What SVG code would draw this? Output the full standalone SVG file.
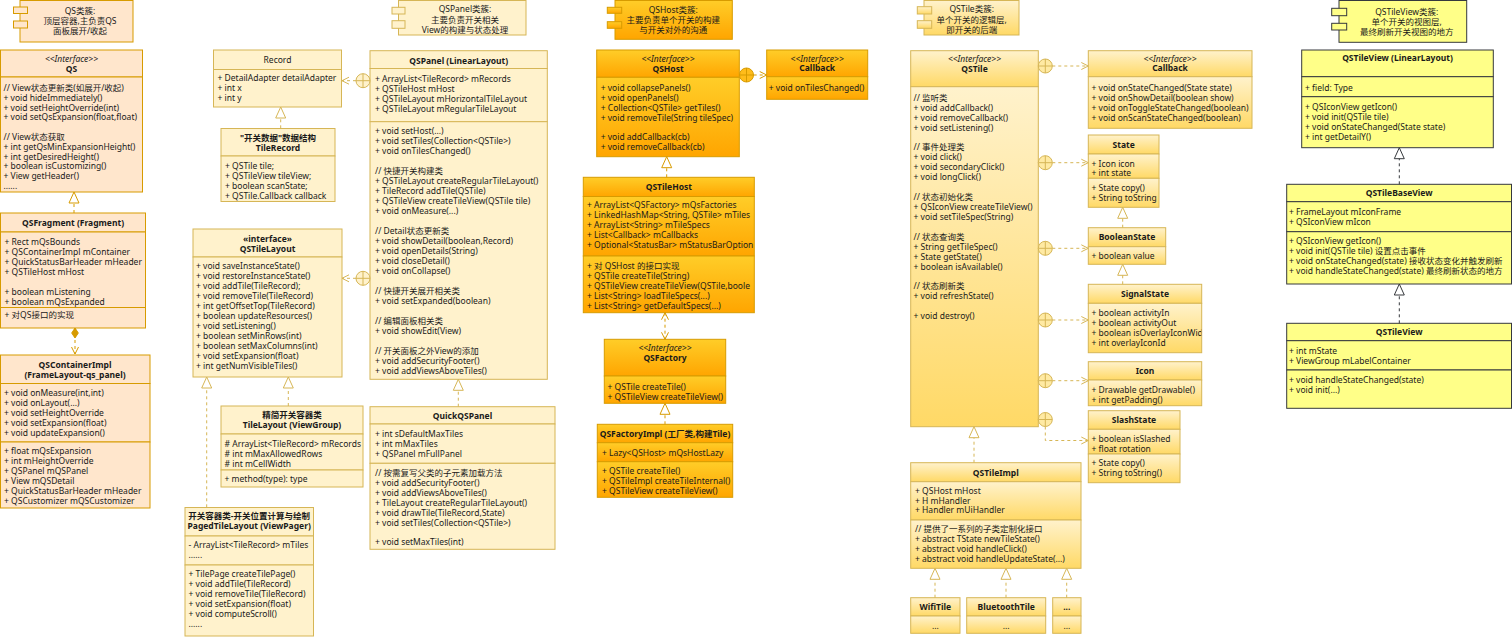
<svg xmlns="http://www.w3.org/2000/svg" width="1512" height="639" viewBox="0 0 1512 639">
<defs>
<style>
text{font-family:"Noto Sans","Noto Sans CJK SC",sans-serif;font-size:8.5px;fill:#1a1a1a}
.b{font-weight:bold}
.i{font-style:italic}
.c{text-anchor:middle}
.qs{fill:#ffe6cc;stroke:#d79b00}
.pn{fill:#fff2cc;stroke:#d6b656}
.hs{fill:url(#gHost);stroke:#d79b00}
.tl{fill:url(#gTile);stroke:#d6b656}
.tv{fill:#ffff88;stroke:#36393d}
.e{fill:none;stroke-dasharray:3 3}
.eo{stroke:#d79b00}
.et{stroke:#d6b656}
.ek{stroke:#36393d}
</style>
<linearGradient id="gHost" x1="0" y1="0" x2="0" y2="1"><stop offset="0" stop-color="#ffcd28"/><stop offset="1" stop-color="#ffa500"/></linearGradient>
<linearGradient id="gTile" x1="0" y1="0" x2="0" y2="1"><stop offset="0" stop-color="#fff2cc"/><stop offset="1" stop-color="#ffd966"/></linearGradient>
<marker id="triO" viewBox="-1 -6 13 12" refX="0" refY="0" markerWidth="13" markerHeight="12" markerUnits="userSpaceOnUse" orient="auto"><path d="M0,-5L11,0L0,5Z" fill="none" stroke="#d79b00"/></marker>
<marker id="triT" viewBox="-1 -6 13 12" refX="0" refY="0" markerWidth="13" markerHeight="12" markerUnits="userSpaceOnUse" orient="auto"><path d="M0,-5L11,0L0,5Z" fill="none" stroke="#d6b656"/></marker>
<marker id="triK" viewBox="-1 -6 13 12" refX="0" refY="0" markerWidth="13" markerHeight="12" markerUnits="userSpaceOnUse" orient="auto"><path d="M0,-5L11,0L0,5Z" fill="none" stroke="#36393d"/></marker>
<marker id="arrO" viewBox="-9 -5 10 10" refX="0" refY="0" markerWidth="10" markerHeight="10" markerUnits="userSpaceOnUse" orient="auto-start-reverse"><path d="M-7,-3.5L0,0L-7,3.5" fill="none" stroke="#d79b00"/></marker>
<marker id="arrT" viewBox="-9 -5 10 10" refX="0" refY="0" markerWidth="10" markerHeight="10" markerUnits="userSpaceOnUse" orient="auto-start-reverse"><path d="M-7,-3.5L0,0L-7,3.5" fill="none" stroke="#d6b656"/></marker>
<marker id="diaO" viewBox="-1 -5 12 10" refX="0" refY="0" markerWidth="12" markerHeight="10" markerUnits="userSpaceOnUse" orient="auto"><path d="M0,0L5,-3.3L10,0L5,3.3Z" fill="#d79b00" stroke="#d79b00"/></marker>
<g id="cp"><circle r="7"/><path d="M-7,0H7M0,-7V7" fill="none"/></g>
<clipPath id="clipHost"><rect x="583.3" y="177.3" width="170.5" height="135.4"/></clipPath>
<clipPath id="clipSig"><rect x="1088.3" y="284.3" width="113" height="68.4"/></clipPath>
</defs>
<rect x="0" y="0" width="1512" height="639" fill="#ffffff"/>

<g id="qs-note">
<rect class="qs" x="20" y="0.5" width="113" height="41.5"/>
<rect class="qs" x="13.5" y="7" width="14" height="6.5"/>
<rect class="qs" x="13.5" y="21" width="14" height="7"/>
<text class="c" x="80" y="13.5">QS类簇:</text>
<text class="c" x="80" y="23.5">顶层容器,主负责QS</text>
<text class="c" x="80" y="33.5">面板展开/收起</text>
</g>

<g id="qs">
<rect class="qs" x="0.5" y="50" width="142" height="27"/>
<rect class="qs" x="0.5" y="77" width="142" height="115"/>
<text class="c i" x="71.5" y="61.5">&lt;&lt;Interface&gt;&gt;</text>
<text class="c b" x="71.5" y="71.5">QS</text>
<text x="3.5" y="91">// View状态更新类(如展开/收起)</text>
<text x="3.5" y="100.8">+ void hideImmediately()</text>
<text x="3.5" y="110.6">+ void setHeightOverride(int)</text>
<text x="3.5" y="120.4">+ void setQsExpansion(float,float)</text>
<text x="3.5" y="140">// View状态获取</text>
<text x="3.5" y="149.8">+ int getQsMinExpansionHeight()</text>
<text x="3.5" y="159.6">+ int getDesiredHeight()</text>
<text x="3.5" y="169.4">+ boolean isCustomizing()</text>
<text x="3.5" y="179.2">+ View getHeader()</text>
<text x="3.5" y="189">......</text>
</g>

<g id="qsfragment">
<rect class="qs" x="0.5" y="213" width="145" height="19"/>
<rect class="qs" x="0.5" y="232" width="145" height="75.5"/>
<rect class="qs" x="0.5" y="307.5" width="145" height="20.5"/>
<text class="c b" x="73" y="226">QSFragment (Fragment)</text>
<text x="4.5" y="244.5">+ Rect mQsBounds</text>
<text x="4.5" y="254.5">+ QSContainerImpl mContainer</text>
<text x="4.5" y="264.5">+ QuickStatusBarHeader mHeader</text>
<text x="4.5" y="274.5">+ QSTileHost mHost</text>
<text x="4.5" y="294.5">+ boolean mListening</text>
<text x="4.5" y="304.5">+ boolean mQsExpanded</text>
<text x="4.5" y="317.5">+ 对QS接口的实现</text>
</g>

<g id="qscontainerimpl">
<rect class="qs" x="0.5" y="355" width="149.5" height="28.5"/>
<rect class="qs" x="0.5" y="383.5" width="149.5" height="58.5"/>
<rect class="qs" x="0.5" y="442" width="149.5" height="66"/>
<text class="c b" x="75" y="367.5">QSContainerImpl</text>
<text class="c b" x="75" y="377.5">(FrameLayout-qs_panel)</text>
<text x="4" y="395.5">+ void onMeasure(int,int)</text>
<text x="4" y="405.5">+ void onLayout(...)</text>
<text x="4" y="415.5">+ void setHeightOverride</text>
<text x="4" y="425.5">+ void setExpansion(float)</text>
<text x="4" y="435.5">+ void updateExpansion()</text>
<text x="4" y="454">+ float mQsExpansion</text>
<text x="4" y="464">+ int mHeightOverride</text>
<text x="4" y="474">+ QSPanel mQSPanel</text>
<text x="4" y="484">+ View mQSDetail</text>
<text x="4" y="494">+ QuickStatusBarHeader mHeader</text>
<text x="4" y="504">+ QSCustomizer mQSCustomizer</text>
</g>

<g id="record">
<rect class="pn" x="213.5" y="50" width="128" height="19.5"/>
<rect class="pn" x="213.5" y="69.5" width="128" height="37.5"/>
<text class="c" x="277.5" y="62.5">Record</text>
<text x="217.5" y="81">+ DetailAdapter detailAdapter</text>
<text x="217.5" y="91">+ int x</text>
<text x="217.5" y="101">+ int y</text>
</g>

<g id="tilerecord">
<rect class="pn" x="221" y="128.5" width="114" height="27.5"/>
<rect class="pn" x="221" y="156" width="114" height="45.5"/>
<text class="c b" x="278" y="140.5">"开关数据"数据结构</text>
<text class="c b" x="278" y="150.5">TileRecord</text>
<text x="225" y="169">+ QSTile tile;</text>
<text x="225" y="179">+ QSTileView tileView;</text>
<text x="225" y="189">+ boolean scanState;</text>
<text x="225" y="199">+ QSTile.Callback callback</text>
</g>

<g id="qstilelayout">
<rect class="pn" x="193" y="229" width="149" height="28"/>
<rect class="pn" x="193" y="257" width="149" height="120"/>
<text class="c b" x="267.5" y="241.5">«interface»</text>
<text class="c b" x="267.5" y="251.5">QSTileLayout</text>
<text x="196" y="269.3">+ void saveInstanceState()</text>
<text x="196" y="279.3">+ void restoreInstanceState()</text>
<text x="196" y="289.3">+ void addTile(TileRecord);</text>
<text x="196" y="299.3">+ void removeTile(TileRecord)</text>
<text x="196" y="309.3">+ int getOffsetTop(TileRecord)</text>
<text x="196" y="319.3">+ boolean updateResources()</text>
<text x="196" y="329.3">+ void setListening()</text>
<text x="196" y="339.3">+ boolean setMinRows(int)</text>
<text x="196" y="349.3">+ boolean setMaxColumns(int)</text>
<text x="196" y="359.3">+ void setExpansion(float)</text>
<text x="196" y="369.3">+ int getNumVisibleTiles()</text>
</g>

<g id="tilelayout">
<rect class="pn" x="221" y="406" width="142" height="28"/>
<rect class="pn" x="221" y="434" width="142" height="36"/>
<rect class="pn" x="221" y="470" width="142" height="17"/>
<text class="c b" x="292" y="417.5">精简开关容器类</text>
<text class="c b" x="292" y="428">TileLayout (ViewGroup)</text>
<text x="224.5" y="446.5"># ArrayList&lt;TileRecord&gt; mRecords</text>
<text x="224.5" y="456.5"># int mMaxAllowedRows</text>
<text x="224.5" y="466.5"># int mCellWidth</text>
<text x="224.5" y="482">+ method(type): type</text>
</g>

<g id="pagedtilelayout">
<rect class="pn" x="185" y="507.5" width="128.5" height="28.5"/>
<rect class="pn" x="185" y="536" width="128.5" height="29"/>
<rect class="pn" x="185" y="565" width="128.5" height="71"/>
<text class="c b" x="249.2" y="519.3">开关容器类-开关位置计算与绘制</text>
<text class="c b" x="249.2" y="529.3">PagedTileLayout (ViewPager)</text>
<text x="188.5" y="548.3">- ArrayList&lt;TileRecord&gt; mTiles</text>
<text x="188.5" y="557.5">......</text>
<text x="188.5" y="576.6">+ TilePage createTilePage()</text>
<text x="188.5" y="586.6">+ void addTile(TileRecord)</text>
<text x="188.5" y="596.6">+ void removeTile(TileRecord)</text>
<text x="188.5" y="606.6">+ void setExpansion(float)</text>
<text x="188.5" y="616.6">+ void computeScroll()</text>
<text x="188.5" y="626.5">......</text>
</g>

<g id="qspanel-note">
<rect class="pn" x="398.5" y="0.5" width="127.5" height="34.5"/>
<rect class="pn" x="392" y="7.3" width="13" height="6.7"/>
<rect class="pn" x="392" y="20.7" width="13" height="7.6"/>
<text class="c" x="465" y="12.3">QSPanel类簇:</text>
<text class="c" x="465" y="22.6">主要负责开关相关</text>
<text class="c" x="465" y="32.6">View的构建与状态处理</text>
</g>

<g id="qspanel">
<rect class="pn" x="370" y="50.7" width="177.3" height="17.8"/>
<rect class="pn" x="370" y="68.5" width="177.3" height="53.2"/>
<rect class="pn" x="370" y="121.7" width="177.3" height="257.6"/>
<text class="c b" x="458.7" y="64">QSPanel (LinearLayout)</text>
<text x="375" y="82.3">+ ArrayList&lt;TileRecord&gt; mRecords</text>
<text x="375" y="92.3">+ QSTileHost mHost</text>
<text x="375" y="102.3">+ QSTileLayout mHorizontalTileLayout</text>
<text x="375" y="112.3">+ QSTileLayout mRegularTileLayout</text>
<text x="375" y="134">+ void setHost(...)</text>
<text x="375" y="144">+ void setTiles(Collection&lt;QSTile&gt;)</text>
<text x="375" y="154">+ void onTilesChanged()</text>
<text x="375" y="174">// 快捷开关构建类</text>
<text x="375" y="184">+ QSTileLayout createRegularTileLayout()</text>
<text x="375" y="194">+ TileRecord addTile(QSTile)</text>
<text x="375" y="204">+ QSTileView createTileView(QSTile tile)</text>
<text x="375" y="214">+ void onMeasure(...)</text>
<text x="375" y="234">// Detail状态更新类</text>
<text x="375" y="244">+ void showDetail(boolean,Record)</text>
<text x="375" y="254">+ void openDetails(String)</text>
<text x="375" y="264">+ void closeDetail()</text>
<text x="375" y="274">+ void onCollapse()</text>
<text x="375" y="294">// 快捷开关展开相关类</text>
<text x="375" y="304">+ void setExpanded(boolean)</text>
<text x="375" y="324">// 编辑面板相关类</text>
<text x="375" y="334">+ void showEdit(View)</text>
<text x="375" y="354">// 开关面板之外View的添加</text>
<text x="375" y="364">+ void addSecurityFooter()</text>
<text x="375" y="374">+ void addViewsAboveTiles()</text>
</g>

<g id="quickqspanel">
<rect class="pn" x="370" y="406.7" width="185" height="17.3"/>
<rect class="pn" x="370" y="424" width="185" height="39.3"/>
<rect class="pn" x="370" y="463.3" width="185" height="86"/>
<text class="c b" x="462.5" y="419">QuickQSPanel</text>
<text x="375" y="437">+ int sDefaultMaxTiles</text>
<text x="375" y="447">+ int mMaxTiles</text>
<text x="375" y="457">+ QSPanel mFullPanel</text>
<text x="375" y="475.6">// 按需复写父类的子元素加载方法</text>
<text x="375" y="485.6">+ void addSecurityFooter()</text>
<text x="375" y="495.6">+ void addViewsAboveTiles()</text>
<text x="375" y="505.6">+ TileLayout createRegularTileLayout()</text>
<text x="375" y="515.6">+ void drawTile(TileRecord,State)</text>
<text x="375" y="525.6">+ void setTiles(Collection&lt;QSTile&gt;)</text>
<text x="375" y="545">+ void setMaxTiles(int)</text>
</g>

<g id="qshost-note">
<rect class="hs" x="615" y="0.5" width="117.3" height="38.8"/>
<rect class="hs" x="607.3" y="7.3" width="14.4" height="6"/>
<rect class="hs" x="607.3" y="21.7" width="14.4" height="6.6"/>
<text class="c" x="673.3" y="12.6">QSHost类簇:</text>
<text class="c" x="673.3" y="23.3">主要负责单个开关的构建</text>
<text class="c" x="673.3" y="32.6">与开关对外的沟通</text>
</g>

<g id="qshost">
<rect class="hs" x="596.7" y="50" width="142.6" height="27.3"/>
<rect class="hs" x="596.7" y="77.3" width="142.6" height="79.4"/>
<text class="c i" x="668" y="61.6">&lt;&lt;Interface&gt;&gt;</text>
<text class="c b" x="668" y="71.6">QSHost</text>
<text x="600.7" y="91">+ void collapsePanels()</text>
<text x="600.7" y="101">+ void openPanels()</text>
<text x="600.7" y="111">+ Collection&lt;QSTile&gt; getTiles()</text>
<text x="600.7" y="121">+ void removeTile(String tileSpec)</text>
<text x="600.7" y="140">+ void addCallback(cb)</text>
<text x="600.7" y="150">+ void removeCallback(cb)</text>
</g>

<g id="qshost-callback">
<rect class="hs" x="766.7" y="50" width="101" height="26.7"/>
<rect class="hs" x="766.7" y="76.7" width="101" height="22.6"/>
<text class="c i" x="817.2" y="61.6">&lt;&lt;Interface&gt;&gt;</text>
<text class="c b" x="817.2" y="71.3">Callback</text>
<text x="768.8" y="91">+ void onTilesChanged()</text>
</g>

<g id="qstilehost">
<rect class="hs" x="583.3" y="177.3" width="171" height="19.2"/>
<rect class="hs" x="583.3" y="196.5" width="171" height="59.5"/>
<rect class="hs" x="583.3" y="256" width="171" height="56.7"/>
<text class="c b" x="668.8" y="190">QSTileHost</text>
<g clip-path="url(#clipHost)">
<text x="587" y="208.3">+ ArrayList&lt;QSFactory&gt; mQsFactories</text>
<text x="587" y="218.3">+ LinkedHashMap&lt;String, QSTile&gt; mTiles</text>
<text x="587" y="228.3">+ ArrayList&lt;String&gt; mTileSpecs</text>
<text x="587" y="238.3">+ List&lt;Callback&gt; mCallbacks</text>
<text x="587" y="248.3">+ Optional&lt;StatusBar&gt; mStatusBarOption</text>
<text x="587" y="269">+ 对 QSHost 的接口实现</text>
<text x="587" y="279">+ QSTile createTile(String)</text>
<text x="587" y="289">+ QSTileView createTileView(QSTile,boole</text>
<text x="587" y="299">+ List&lt;String&gt; loadTileSpecs(...)</text>
<text x="587" y="309">+ List&lt;String&gt; getDefaultSpecs(...)</text>
</g>
</g>

<g id="qsfactory">
<rect class="hs" x="604.3" y="339.3" width="121.4" height="36.7"/>
<rect class="hs" x="604.3" y="376" width="121.4" height="27.3"/>
<text class="c i" x="665" y="350.6">&lt;&lt;Interface&gt;&gt;</text>
<text class="c b" x="665" y="360.6">QSFactory</text>
<text x="607.5" y="390">+ QSTile createTile()</text>
<text x="607.5" y="400">+ QSTileView createTileView()</text>
</g>

<g id="qsfactoryimpl">
<rect class="hs" x="597.3" y="424.3" width="135.4" height="18.4"/>
<rect class="hs" x="597.3" y="442.7" width="135.4" height="19"/>
<rect class="hs" x="597.3" y="461.7" width="135.4" height="35.6"/>
<text class="c b" x="665" y="437.3">QSFactoryImpl (工厂类,构建Tile)</text>
<text x="602" y="456">+ Lazy&lt;QSHost&gt; mQsHostLazy</text>
<text x="602" y="474.3">+ QSTile createTile()</text>
<text x="602" y="484.3">+ QSTileImpl createTileInternal()</text>
<text x="602" y="494.3">+ QSTileView createTileView()</text>
</g>

<g id="qstile-note">
<rect class="tl" x="924" y="0.5" width="95" height="34.5"/>
<rect class="tl" x="917.3" y="6.7" width="14.4" height="7.3"/>
<rect class="tl" x="917.3" y="20.7" width="14.4" height="7.6"/>
<text class="c" x="971.7" y="12.3">QSTile类簇:</text>
<text class="c" x="971.7" y="22.6">单个开关的逻辑层,</text>
<text class="c" x="971.7" y="32.6">即开关的后端</text>
</g>

<g id="qstile">
<rect class="tl" x="910.7" y="50.7" width="127.6" height="36"/>
<rect class="tl" x="910.7" y="86.7" width="127.6" height="340"/>
<text class="c i" x="974.5" y="61.6">&lt;&lt;Interface&gt;&gt;</text>
<text class="c b" x="974.5" y="71.6">QSTile</text>
<text x="913.5" y="100.6">// 监听类</text>
<text x="913.5" y="110.6">+ void addCallback()</text>
<text x="913.5" y="120.6">+ void removeCallback()</text>
<text x="913.5" y="130.6">+ void setListening()</text>
<text x="913.5" y="150">// 事件处理类</text>
<text x="913.5" y="160">+ void click()</text>
<text x="913.5" y="170">+ void secondaryClick()</text>
<text x="913.5" y="180">+ void longClick()</text>
<text x="913.5" y="200">// 状态初始化类</text>
<text x="913.5" y="210">+ QSIconView createTileView()</text>
<text x="913.5" y="220">+ void setTileSpec(String)</text>
<text x="913.5" y="240">// 状态查询类</text>
<text x="913.5" y="250">+ String getTileSpec()</text>
<text x="913.5" y="260">+ State getState()</text>
<text x="913.5" y="270">+ boolean isAvailable()</text>
<text x="913.5" y="289.3">// 状态刷新类</text>
<text x="913.5" y="299.3">+ void refreshState()</text>
<text x="913.5" y="319.3">+ void destroy()</text>
</g>

<g id="qstile-callback">
<rect class="tl" x="1088.3" y="50.7" width="163.7" height="26"/>
<rect class="tl" x="1088.3" y="76.7" width="163.7" height="51.6"/>
<text class="c i" x="1170" y="61.6">&lt;&lt;Interface&gt;&gt;</text>
<text class="c b" x="1170" y="71.3">Callback</text>
<text x="1091.5" y="90.6">+ void onStateChanged(State state)</text>
<text x="1091.5" y="100.6">+ void onShowDetail(boolean show)</text>
<text x="1091.5" y="110.6">+ void onToggleStateChanged(boolean)</text>
<text x="1091.5" y="120.6">+ void onScanStateChanged(boolean)</text>
</g>

<g id="state">
<rect class="tl" x="1088.3" y="135" width="70.7" height="19"/>
<rect class="tl" x="1088.3" y="154" width="70.7" height="24.3"/>
<rect class="tl" x="1088.3" y="178.3" width="70.7" height="29"/>
<text class="c b" x="1123.7" y="148">State</text>
<text x="1091.5" y="166.6">+ Icon icon</text>
<text x="1091.5" y="176.3">+ int state</text>
<text x="1091.5" y="190.6">+ State copy()</text>
<text x="1091.5" y="200.6">+ String toString</text>
</g>

<g id="booleanstate">
<rect class="tl" x="1088.3" y="227.7" width="77.4" height="19"/>
<rect class="tl" x="1088.3" y="246.7" width="77.4" height="17.6"/>
<text class="c b" x="1127" y="240.3">BooleanState</text>
<text x="1091.5" y="259">+ boolean value</text>
</g>

<g id="signalstate">
<rect class="tl" x="1088.3" y="284.3" width="113.4" height="19"/>
<rect class="tl" x="1088.3" y="303.3" width="113.4" height="49.4"/>
<text class="c b" x="1145" y="297.3">SignalState</text>
<g clip-path="url(#clipSig)">
<text x="1091.5" y="315.6">+ boolean activityIn</text>
<text x="1091.5" y="325.6">+ boolean activityOut</text>
<text x="1091.5" y="335.6">+ boolean isOverlayIconWid</text>
<text x="1091.5" y="345.6">+ int overlayIconId</text>
</g>
</g>

<g id="icon">
<rect class="tl" x="1088.3" y="361.7" width="113.4" height="18.3"/>
<rect class="tl" x="1088.3" y="380" width="113.4" height="25.7"/>
<text class="c b" x="1145" y="374">Icon</text>
<text x="1091.5" y="392.6">+ Drawable getDrawable()</text>
<text x="1091.5" y="402.6">+ int getPadding()</text>
</g>

<g id="slashstate">
<rect class="tl" x="1088.3" y="410.7" width="91.7" height="18.6"/>
<rect class="tl" x="1088.3" y="429.3" width="91.7" height="24.7"/>
<rect class="tl" x="1088.3" y="454" width="91.7" height="28.7"/>
<text class="c b" x="1134" y="423.3">SlashState</text>
<text x="1091.5" y="441.6">+ boolean isSlashed</text>
<text x="1091.5" y="451.6">+ float rotation</text>
<text x="1091.5" y="466">+ State copy()</text>
<text x="1091.5" y="476">+ String toString()</text>
</g>

<g id="qstileimpl">
<rect class="tl" x="910.7" y="462.7" width="170.3" height="19"/>
<rect class="tl" x="910.7" y="481.7" width="170.3" height="38.3"/>
<rect class="tl" x="910.7" y="520" width="170.3" height="48.3"/>
<text class="c b" x="995.8" y="475.6">QSTileImpl</text>
<text x="915" y="493.6">+ QSHost mHost</text>
<text x="915" y="503.6">+ H mHandler</text>
<text x="915" y="513.3">+ Handler mUiHandler</text>
<text x="915" y="532.3">// 提供了一系列的子类定制化接口</text>
<text x="915" y="542.3">+ abstract TState newTileState()</text>
<text x="915" y="552.3">+ abstract void handleClick()</text>
<text x="915" y="562.3">+ abstract void handleUpdateState(...)</text>
</g>

<g id="wifitile">
<rect class="tl" x="910.7" y="597.7" width="49.3" height="18.3"/>
<rect class="tl" x="910.7" y="616" width="49.3" height="17.3"/>
<text class="c b" x="935.3" y="610">WifiTile</text>
<text class="c" x="935.3" y="629">...</text>
</g>

<g id="bluetoothtile">
<rect class="tl" x="966.7" y="597.7" width="79" height="18.3"/>
<rect class="tl" x="966.7" y="616" width="79" height="17.3"/>
<text class="c b" x="1006.2" y="610">BluetoothTile</text>
<text class="c" x="1006.2" y="629">...</text>
</g>

<g id="moretiles">
<rect class="tl" x="1052.7" y="597.7" width="28.3" height="18.3"/>
<rect class="tl" x="1052.7" y="616" width="28.3" height="17.3"/>
<text class="c b" x="1066.8" y="610">...</text>
<text class="c" x="1066.8" y="629">...</text>
</g>

<g id="qstileview-note">
<rect class="tv" x="1339" y="0.5" width="127.7" height="41.8"/>
<rect class="tv" x="1331.7" y="8.3" width="15" height="7.4"/>
<rect class="tv" x="1331.7" y="23.3" width="15" height="6.7"/>
<text class="c" x="1406.7" y="15">QSTileView类簇:</text>
<text class="c" x="1406.7" y="25">单个开关的视图层,</text>
<text class="c" x="1406.7" y="35">最终刷新开关视图的地方</text>
</g>

<g id="qstileview-linear">
<rect class="tv" x="1301.7" y="50" width="191.6" height="26.7"/>
<rect class="tv" x="1301.7" y="76.7" width="191.6" height="20"/>
<rect class="tv" x="1301.7" y="96.7" width="191.6" height="51"/>
<text class="c b" x="1397.5" y="61">QSTileView (LinearLayout)</text>
<text x="1305" y="90.6">+ field: Type</text>
<text x="1305" y="110">+ QSIconView getIcon()</text>
<text x="1305" y="120">+ void init(QSTile tile)</text>
<text x="1305" y="130">+ void onStateChanged(State state)</text>
<text x="1305" y="140">+ int getDetailY()</text>
</g>

<g id="qstilebaseview">
<rect class="tv" x="1286.7" y="184.3" width="224.8" height="17.4"/>
<rect class="tv" x="1286.7" y="201.7" width="224.8" height="30"/>
<rect class="tv" x="1286.7" y="231.7" width="224.8" height="52.3"/>
<text class="c b" x="1399.1" y="196">QSTileBaseView</text>
<text x="1289" y="215.3">+ FrameLayout mIconFrame</text>
<text x="1289" y="225.3">+ QSIconView mIcon</text>
<text x="1289" y="244">+ QSIconView getIcon()</text>
<text x="1289" y="254">+ void init(QSTile tile) 设置点击事件</text>
<text x="1289" y="264">+ void onStateChanged(state) 接收状态变化并触发刷新</text>
<text x="1289" y="274">+ void handleStateChanged(state) 最终刷新状态的地方</text>
</g>

<g id="qstileview">
<rect class="tv" x="1286.7" y="323.3" width="224.8" height="17.4"/>
<rect class="tv" x="1286.7" y="340.7" width="224.8" height="29.3"/>
<rect class="tv" x="1286.7" y="370" width="224.8" height="38.3"/>
<text class="c b" x="1399.1" y="335">QSTileView</text>
<text x="1289" y="354">+ int mState</text>
<text x="1289" y="364">+ ViewGroup mLabelContainer</text>
<text x="1289" y="382.6">+ void handleStateChanged(state)</text>
<text x="1289" y="392.6">+ void init(...)</text>
</g>

<g id="connectors">
<path class="e eo" d="M74,213V203" marker-end="url(#triO)"/>
<path class="e eo" d="M75,328V354" marker-start="url(#diaO)" marker-end="url(#arrO)"/>
<path class="e et" d="M356,80.7H342" marker-end="url(#arrT)"/>
<path class="e et" d="M356,278.3H342" marker-end="url(#arrT)"/>
<use href="#cp" transform="translate(363,80.7)" fill="#fff2cc" stroke="#d6b656"/>
<use href="#cp" transform="translate(363,278.3)" fill="#fff2cc" stroke="#d6b656"/>
<path class="e et" d="M280.7,128.3V118" marker-end="url(#triT)"/>
<path class="e et" d="M206.7,507.3V388" marker-end="url(#triT)"/>
<path class="e et" d="M288.3,406V388" marker-end="url(#triT)"/>
<path class="e et" d="M458.3,406.7V390.3" marker-end="url(#triT)"/>
<path class="e eo" d="M753.7,75H766.7" marker-end="url(#arrO)"/>
<use href="#cp" transform="translate(746.5,75)" fill="#ffbc1a" stroke="#d79b00"/>
<path class="e eo" d="M666.7,177.3V167.7" marker-end="url(#triO)"/>
<path class="e eo" d="M665,312.7V339.3" marker-start="url(#arrO)" marker-end="url(#arrO)"/>
<path class="e eo" d="M665,424.3V414.3" marker-end="url(#triO)"/>
<path class="e et" d="M1052.3,66H1088.3" marker-end="url(#arrT)"/>
<path class="e et" d="M1052.3,162.7H1088.3" marker-end="url(#arrT)"/>
<path class="e et" d="M1052.3,248.3H1088.3" marker-end="url(#arrT)"/>
<path class="e et" d="M1052.3,320H1088.3" marker-end="url(#arrT)"/>
<path class="e et" d="M1052.3,380.7H1088.3" marker-end="url(#arrT)"/>
<path class="e et" d="M1045.3,426.5V440.5H1088.3" marker-end="url(#arrT)"/>
<use href="#cp" transform="translate(1045.3,66)" fill="#ffeaa3" stroke="#d6b656"/>
<use href="#cp" transform="translate(1045.3,162.7)" fill="#ffeaa3" stroke="#d6b656"/>
<use href="#cp" transform="translate(1045.3,248.3)" fill="#ffeaa3" stroke="#d6b656"/>
<use href="#cp" transform="translate(1045.3,320)" fill="#ffeaa3" stroke="#d6b656"/>
<use href="#cp" transform="translate(1045.3,380.7)" fill="#ffeaa3" stroke="#d6b656"/>
<use href="#cp" transform="translate(1045.3,419.5)" fill="#ffeaa3" stroke="#d6b656"/>
<path class="e et" d="M1122.7,227.7V218.3" marker-end="url(#triT)"/>
<path class="e et" d="M1122.7,284.3V275.3" marker-end="url(#triT)"/>
<path class="e et" d="M974,462.7V437.7" marker-end="url(#triT)"/>
<path class="e et" d="M935,597.7V579.3" marker-end="url(#triT)"/>
<path class="e et" d="M1006,597.7V579.3" marker-end="url(#triT)"/>
<path class="e et" d="M1066.7,597.7V579.3" marker-end="url(#triT)"/>
<path class="e ek" d="M1399.3,184.3V158.7" marker-end="url(#triK)"/>
<path class="e ek" d="M1399.3,323.3V295" marker-end="url(#triK)"/>
</g>
</svg>
